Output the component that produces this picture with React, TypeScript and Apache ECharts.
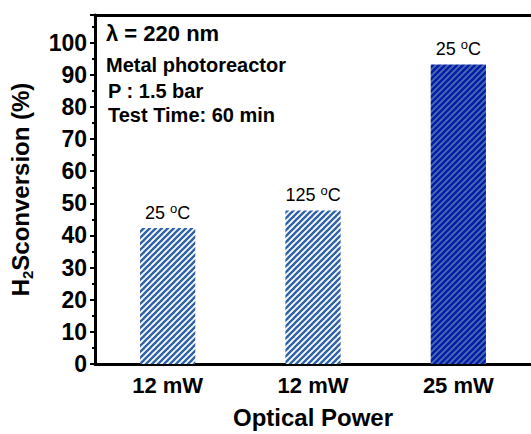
import { useEffect, useRef } from "react";
import * as echarts from "echarts";

const categories = ["12 mW", "12 mW", "25 mW"];
const conversion = [42.3, 47.8, 93.2];
const tempLabels = ["25", "125", "25"];
const notes = ["Metal photoreactor", "P : 1.5 bar", "Test Time: 60 min"];
const wavelengthNote = "λ = 220 nm";

const FONT = '"Liberation Sans", Arial, sans-serif';

function stripeTile(bg: string, fg: string, size: number, width: number): HTMLCanvasElement {
  const c = document.createElement("canvas");
  c.width = size;
  c.height = size;
  const ctx = c.getContext("2d")!;
  ctx.fillStyle = bg;
  ctx.fillRect(0, 0, size, size);
  ctx.strokeStyle = fg;
  ctx.lineWidth = width;
  for (const k of [-size, 0, size]) {
    ctx.beginPath();
    ctx.moveTo(k - 1, size + 1);
    ctx.lineTo(k + size + 1, -1);
    ctx.stroke();
  }
  return c;
}

export default function App() {
  const ref = useRef<HTMLDivElement>(null);
  useEffect(() => {
    if (!ref.current) return;
    const chart = echarts.init(ref.current, undefined, { renderer: "svg" });
    const lightPattern = stripeTile("#ffffff", "#2f62a6", 6, 2.4);
    const darkPattern = stripeTile("#4470b4", "#0a1aa6", 6, 2.4);
    const patterns = [lightPattern, lightPattern, darkPattern];

    chart.setOption({
      animation: false,
      grid: { left: 95, right: 0, top: 15, bottom: 67, containLabel: false },
      xAxis: [
        {
          type: "category",
          data: categories,
          axisLine: { lineStyle: { color: "#000", width: 3 } },
          axisTick: { alignWithLabel: true, length: 6, lineStyle: { color: "#000", width: 2 } },
          axisLabel: {
            color: "#000",
            fontSize: 22,
            fontWeight: "bold",
            fontFamily: FONT,
            margin: 10,
          },
          name: "Optical Power",
          nameLocation: "middle",
          nameGap: 41,
          nameTextStyle: { color: "#000", fontSize: 24, fontWeight: "bold", fontFamily: FONT },
        },
        {
          type: "category",
          position: "top",
          data: categories,
          axisLine: { lineStyle: { color: "#000", width: 3 } },
          axisTick: { show: false },
          axisLabel: { show: false },
        },
      ],
      yAxis: {
        type: "value",
        min: 0,
        max: 108.6,
        interval: 10,
        splitLine: { show: false },
        axisLine: { show: true, lineStyle: { color: "#000", width: 3 } },
        axisTick: { show: true, length: 5, lineStyle: { color: "#000", width: 2 } },
        minorTick: { show: true, splitNumber: 2, length: 3, lineStyle: { color: "#000", width: 2 } },
        axisLabel: {
          color: "#000",
          fontSize: 23,
          fontWeight: "bold",
          fontFamily: FONT,
          margin: 8,
          showMaxLabel: false,
        },
        name: "H{sub|2}Sconversion (%)",
        nameLocation: "middle",
        nameGap: 60,
        nameTextStyle: {
          color: "#000",
          fontSize: 24,
          fontWeight: "bold",
          fontFamily: FONT,
          rich: {
            sub: {
              color: "#000",
              fontSize: 15,
              fontWeight: "bold",
              fontFamily: FONT,
              verticalAlign: "bottom",
              lineHeight: 30,
            },
          },
        },
      },
      series: [
        {
          type: "bar",
          barWidth: "38%",
          data: conversion.map((v, i) => ({
            value: v,
            itemStyle: { color: { image: patterns[i], repeat: "repeat" } },
            label: {
              show: true,
              position: "top",
              distance: 4,
              formatter: `${tempLabels[i]} {sup|o}C`,
              color: "#000",
              fontSize: 18,
              fontFamily: FONT,
              rich: {
                sup: {
                  fontSize: 13,
                  color: "#000",
                  fontFamily: FONT,
                  padding: [0, 0, 9, 0],
                },
              },
            },
          })),
        },
      ],
      graphic: [
        {
          type: "text",
          left: 106,
          top: 22,
          style: {
            text: wavelengthNote,
            fill: "#000",
            fontSize: 22,
            fontWeight: "bold",
            fontFamily: FONT,
          },
        },
        ...notes.map((t, i) => ({
          type: "text",
          left: i === 0 ? 106 : 108,
          top: [55, 81, 105][i],
          style: {
            text: t,
            fill: "#000",
            fontSize: 20,
            fontWeight: "bold",
            fontFamily: FONT,
          },
        })),
      ],
    });
    return () => chart.dispose();
  }, []);
  return (
    <div
      ref={ref}
      style={{ position: "fixed", left: 0, top: 0, width: 531, height: 434, background: "#fff" }}
    />
  );
}
